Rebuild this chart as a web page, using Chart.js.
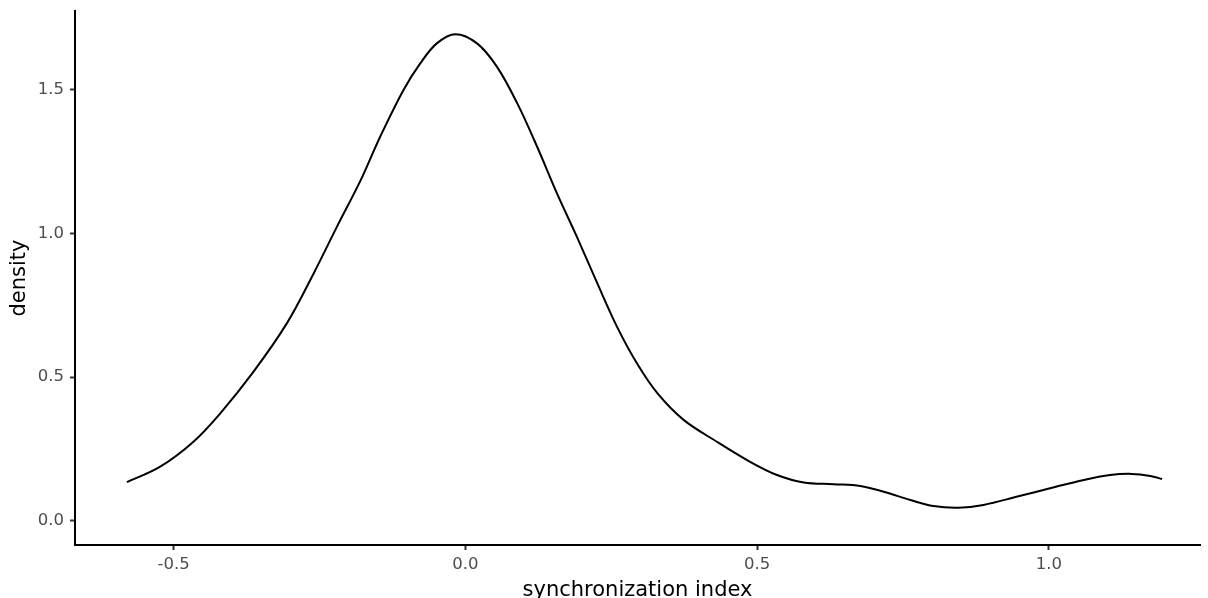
<!DOCTYPE html>
<html>
<head>
<meta charset="utf-8">
<script src="https://cdn.jsdelivr.net/npm/chart.js@4/dist/chart.umd.min.js"></script>
<style>
  html, body { margin: 0; padding: 0; background: #ffffff; }
  #wrap { width: 1208px; height: 598px; position: relative; }
</style>
</head>
<body>
<div id="wrap"><canvas id="c" width="1208" height="598"></canvas></div>
<script>
// Kernel density estimate of the synchronization index
const syncIndex = [
  -0.580, -0.523, -0.466, -0.420, -0.363, -0.306, -0.260, -0.220, -0.180, -0.146,
  -0.106, -0.077, -0.049, -0.017, 0.020, 0.054, 0.089, 0.123, 0.157, 0.191,
  0.226, 0.260, 0.294, 0.329, 0.374, 0.431, 0.488, 0.534, 0.580, 0.631,
  0.677, 0.717, 0.763, 0.802, 0.845, 0.888, 0.946, 1.002, 1.060, 1.105,
  1.142, 1.174, 1.194
];
const density = [
  0.134, 0.188, 0.275, 0.374, 0.519, 0.687, 0.861, 1.024, 1.183, 1.337,
  1.500, 1.593, 1.662, 1.694, 1.662, 1.581, 1.453, 1.302, 1.140, 0.989,
  0.827, 0.675, 0.548, 0.444, 0.351, 0.275, 0.205, 0.159, 0.133, 0.127,
  0.121, 0.101, 0.072, 0.051, 0.045, 0.055, 0.084, 0.113, 0.142, 0.159,
  0.163, 0.156, 0.145
];
const xTicks = [-0.5, 0.0, 0.5, 1.0];
const yTicks = [0.0, 0.5, 1.0, 1.5];
const xTitle = 'synchronization index';
const yTitle = 'density';

const points = syncIndex.map((x, i) => ({ x: x, y: density[i] }));

const tickFont = { family: 'DejaVu Sans, sans-serif', size: 16.5 };
const titleFont = { family: 'DejaVu Sans, sans-serif', size: 21, lineHeight: 0.5 };

new Chart(document.getElementById('c'), {
  type: 'line',
  data: {
    datasets: [{
      data: points,
      borderColor: '#000000',
      borderWidth: 2,
      pointRadius: 0,
      fill: false,
      tension: 0.35
    }]
  },
  options: {
    responsive: false,
    animation: false,
    events: [],
    layout: { padding: { top: 11, right: 8, bottom: 0, left: 0 } },
    plugins: { legend: { display: false }, tooltip: { enabled: false } },
    scales: {
      x: {
        type: 'linear',
        min: -0.669,
        max: 1.259,
        afterBuildTicks: s => { s.ticks = xTicks.map(v => ({ value: v })); },
        afterFit: s => { s.height = 53; s.paddingLeft = 0; s.paddingRight = 0; },
        border: { display: true, color: '#000000', width: 2 },
        grid: { drawOnChartArea: false, drawTicks: true, tickLength: 5, color: '#333333', tickWidth: 2 },
        ticks: { color: '#4d4d4d', font: tickFont, padding: 5, maxRotation: 0,
                 callback: v => v.toFixed(1) },
        title: { display: true, text: xTitle, color: '#000000', font: titleFont,
                 padding: { top: 0, bottom: 2.5 } }
      },
      y: {
        type: 'linear',
        min: -0.0846,
        max: 1.7747,
        afterBuildTicks: s => { s.ticks = yTicks.map(v => ({ value: v })); },
        afterFit: s => { s.width = 75; s.paddingTop = 0; s.paddingBottom = 0; },
        border: { display: true, color: '#000000', width: 2 },
        grid: { drawOnChartArea: false, drawTicks: true, tickLength: 5, color: '#333333', tickWidth: 2 },
        ticks: { color: '#4d4d4d', font: tickFont, padding: 6,
                 callback: v => v.toFixed(1) },
        title: { display: true, text: yTitle, color: '#000000', font: titleFont,
                 padding: { top: 14.5, bottom: 0 } }
      }
    }
  }
});
</script>
</body>
</html>
